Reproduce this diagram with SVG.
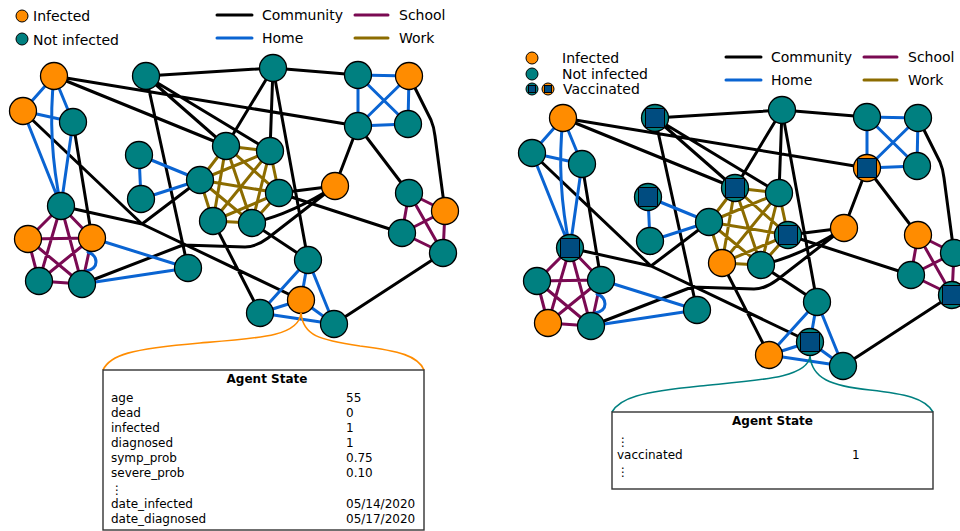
<svg xmlns="http://www.w3.org/2000/svg" xmlns:xlink="http://www.w3.org/1999/xlink" width="960" height="531" viewBox="0 0 960 531">
<style>
text{font-family:"DejaVu Sans","Liberation Sans",sans-serif;fill:#000}
.lg{font-size:14px}
.st{font-size:12px}
.ttl{font-size:12px;font-weight:bold}
.e{fill:none;stroke-width:3;stroke-linejoin:round;stroke-linecap:round}
.com{stroke:#000}
.home{stroke:#0a64d2}
.sch{stroke:#7a0a52}
.work{stroke:#8c6c00}
.n circle{stroke:#000;stroke-width:1.3}
.inf{fill:#ff8c00}
.sus{fill:#008080}
.vac{fill:#004c80;stroke:#000;stroke-width:1}
.box{fill:#fff;stroke:#333;stroke-width:1.4}
</style>
<defs>
<g id="edgesL" class="e">
<!-- work clique -->
<path class="work" d="M226,146L270,151M226,146L200,180M226,146L279,193M226,146L213,221M226,146L252,223M270,151L200,180M270,151L279,193M270,151L213,221M270,151L252,223M200,180L279,193M200,180L213,221M200,180L252,223M279,193L213,221M279,193L252,223M213,221L252,223"/>
<!-- school cliques -->
<path class="sch" d="M61,206L28,239M61,206L92,238M61,206L39,281M61,206L82,284M28,239L92,238M28,239L39,281M28,239L82,284M92,238L39,281M92,238L82,284M39,281L82,284"/>
<path class="sch" d="M409,193L445,211M409,193L402,233M409,193L443,253M445,211L402,233M445,211L443,253M402,233L443,253"/>
<!-- community -->
<path class="com" d="M146,76L273,68M273,68L358,75M54,76L358,126M54,76L226,146M146,76L226,146M146,76L270,151M146,76L188,268M273,68L226,146M273,68L270,151M273,68L308,260M358,126L335,186M358,126L409,193M409,76L431,120Q434,127 435,136L445,211M279,193L335,186M279,193L402,233M252,223Q292,214 335,186M82,284L183,245L245,247Q256,247 268,238L335,186M252,223L308,260M213,221L260,313M443,253L334,324M73,122L92,238M23,111L142,224L200,180M61,206L142,224L301,300"/>
<!-- home -->
<path class="home" d="M54,76L23,111M54,76L73,122M54,76Q47,140 61,206M23,111L73,122M23,111L61,206M73,122L61,206"/>
<path class="home" d="M139,155L141,199M139,155L200,180M141,199L200,180"/>
<path class="home" d="M358,75L409,76M358,75L358,126M358,75L408,124M409,76L358,126M409,76L408,124M358,126L408,124"/>
<path class="home" d="M308,260L301,300M308,260L260,313M308,260L334,324M301,300L260,313M301,300L334,324M260,313L334,324"/>
<path class="home" d="M92,238L188,268M82,284L188,268M88,252C98,256 100,268 86,271"/>
</g>
</defs>

<!-- ===== Left panel ===== -->
<g id="legend-left">
<circle cx="22" cy="16" r="6" class="inf" stroke="#000" stroke-width="1"/>
<text class="lg" x="33" y="21">Infected</text>
<circle cx="22" cy="39" r="6" class="sus" stroke="#000" stroke-width="1"/>
<text class="lg" x="33" y="45">Not infected</text>
<line x1="217" y1="15" x2="252" y2="15" class="e com"/>
<text class="lg" x="262" y="20">Community</text>
<line x1="355" y1="15" x2="388" y2="15" class="e sch"/>
<text class="lg" x="399" y="20">School</text>
<line x1="217" y1="38" x2="252" y2="38" class="e home"/>
<text class="lg" x="262" y="43">Home</text>
<line x1="355" y1="38" x2="388" y2="38" class="e work"/>
<text class="lg" x="399" y="43">Work</text>
</g>

<g id="connectors-left">
<use xlink:href="#edgesL" href="#edgesL"/>
</g>

<g id="nodes-left" class="n">
<g id="L-A"><circle cx="54" cy="76" r="13.5" class="inf"/></g>
<g id="L-B"><circle cx="23" cy="111" r="13.5" class="inf"/></g>
<g id="L-C"><circle cx="73" cy="122" r="13.5" class="sus"/></g>
<g id="L-D"><circle cx="146" cy="76" r="13.5" class="sus"/></g>
<g id="L-E"><circle cx="139" cy="155" r="13.5" class="sus"/></g>
<g id="L-F"><circle cx="273" cy="68" r="13.5" class="sus"/></g>
<g id="L-G"><circle cx="358" cy="75" r="13.5" class="sus"/></g>
<g id="L-H"><circle cx="409" cy="76" r="13.5" class="inf"/></g>
<g id="L-I"><circle cx="358" cy="126" r="13.5" class="sus"/></g>
<g id="L-J"><circle cx="408" cy="124" r="13.5" class="sus"/></g>
<g id="L-K"><circle cx="226" cy="146" r="13.5" class="sus"/></g>
<g id="L-L"><circle cx="270" cy="151" r="13.5" class="sus"/></g>
<g id="L-M"><circle cx="200" cy="180" r="13.5" class="sus"/></g>
<g id="L-N"><circle cx="141" cy="199" r="13.5" class="sus"/></g>
<g id="L-O"><circle cx="279" cy="193" r="13.5" class="sus"/></g>
<g id="L-P"><circle cx="335" cy="186" r="13.5" class="inf"/></g>
<g id="L-Q"><circle cx="213" cy="221" r="13.5" class="sus"/></g>
<g id="L-R"><circle cx="252" cy="223" r="13.5" class="sus"/></g>
<g id="L-S"><circle cx="409" cy="193" r="13.5" class="sus"/></g>
<g id="L-T"><circle cx="445" cy="211" r="13.5" class="inf"/></g>
<g id="L-U"><circle cx="402" cy="233" r="13.5" class="sus"/></g>
<g id="L-V"><circle cx="443" cy="253" r="13.5" class="sus"/></g>
<g id="L-W"><circle cx="61" cy="206" r="13.5" class="sus"/></g>
<g id="L-X"><circle cx="28" cy="239" r="13.5" class="inf"/></g>
<g id="L-Y"><circle cx="92" cy="238" r="13.5" class="inf"/></g>
<g id="L-Z"><circle cx="39" cy="281" r="13.5" class="sus"/></g>
<g id="L-AA"><circle cx="82" cy="284" r="13.5" class="sus"/></g>
<g id="L-AB"><circle cx="188" cy="268" r="13.5" class="sus"/></g>
<g id="L-AC"><circle cx="308" cy="260" r="13.5" class="sus"/></g>
<g id="L-AD"><circle cx="301" cy="300" r="13.5" class="inf"/></g>
<g id="L-AE"><circle cx="260" cy="313" r="13.5" class="sus"/></g>
<g id="L-AF"><circle cx="334" cy="324" r="13.5" class="sus"/></g>
</g>

<g id="callout-left">
<path d="M103,370C110,355 130,349 200,343C262,338 299,336 301,313" fill="none" stroke="#ff8c00" stroke-width="1.6"/>
<path d="M301,313C303,336 320,340 360,346C400,351 418,356 424,370" fill="none" stroke="#ff8c00" stroke-width="1.6"/>
<rect x="103" y="370" width="321" height="160" class="box"/>
<text class="ttl" x="267" y="383" text-anchor="middle">Agent State</text>
<text class="st" x="111" y="402">age</text><text class="st" x="346" y="402">55</text>
<text class="st" x="111" y="417">dead</text><text class="st" x="346" y="417">0</text>
<text class="st" x="111" y="432">infected</text><text class="st" x="346" y="432">1</text>
<text class="st" x="111" y="447">diagnosed</text><text class="st" x="346" y="447">1</text>
<text class="st" x="111" y="462">symp_prob</text><text class="st" x="346" y="462">0.75</text>
<text class="st" x="111" y="477">severe_prob</text><text class="st" x="346" y="477">0.10</text>
<text class="st" x="111" y="494">⋮</text>
<text class="st" x="111" y="508">date_infected</text><text class="st" x="346" y="508">05/14/2020</text>
<text class="st" x="111" y="523">date_diagnosed</text><text class="st" x="346" y="523">05/17/2020</text>
</g>

<!-- ===== Right panel ===== -->
<g id="legend-right">
<circle cx="532" cy="58" r="6" class="inf" stroke="#000" stroke-width="1"/>
<text class="lg" x="562" y="63">Infected</text>
<circle cx="532" cy="74" r="6" class="sus" stroke="#000" stroke-width="1"/>
<text class="lg" x="562" y="79">Not infected</text>
<circle cx="532" cy="89" r="6" class="sus" stroke="#000" stroke-width="1"/>
<rect x="528.5" y="85.5" width="7" height="7" class="vac"/>
<circle cx="548" cy="89" r="6" class="inf" stroke="#000" stroke-width="1"/>
<rect x="544.5" y="85.5" width="7" height="7" class="vac"/>
<text class="lg" x="563" y="94">Vaccinated</text>
<line x1="726" y1="57" x2="761" y2="57" class="e com"/>
<text class="lg" x="771" y="62">Community</text>
<line x1="864" y1="57" x2="897" y2="57" class="e sch"/>
<text class="lg" x="908" y="62">School</text>
<line x1="726" y1="80" x2="761" y2="80" class="e home"/>
<text class="lg" x="771" y="85">Home</text>
<line x1="864" y1="80" x2="897" y2="80" class="e work"/>
<text class="lg" x="908" y="85">Work</text>
</g>

<g id="connectors-right">
<use xlink:href="#edgesL" href="#edgesL" transform="translate(509,42)"/>
</g>

<g id="nodes-right" class="n" transform="translate(509,42)">
<g id="R-A"><circle cx="54" cy="76" r="13.5" class="inf"/></g>
<g id="R-B"><circle cx="23" cy="111" r="13.5" class="sus"/></g>
<g id="R-C"><circle cx="73" cy="122" r="13.5" class="sus"/></g>
<g id="R-D"><circle cx="146" cy="76" r="13.5" class="sus"/><rect x="136.5" y="66.5" width="19" height="19" class="vac"/></g>
<g id="R-E"><circle cx="139" cy="155" r="13.5" class="sus"/><rect x="129.5" y="145.5" width="19" height="19" class="vac"/></g>
<g id="R-F"><circle cx="273" cy="68" r="13.5" class="sus"/></g>
<g id="R-G"><circle cx="358" cy="75" r="13.5" class="sus"/></g>
<g id="R-H"><circle cx="409" cy="76" r="13.5" class="sus"/></g>
<g id="R-I"><circle cx="358" cy="126" r="13.5" class="inf"/><rect x="348.5" y="116.5" width="19" height="19" class="vac"/></g>
<g id="R-J"><circle cx="408" cy="124" r="13.5" class="sus"/></g>
<g id="R-K"><circle cx="226" cy="146" r="13.5" class="sus"/><rect x="216.5" y="136.5" width="19" height="19" class="vac"/></g>
<g id="R-L"><circle cx="270" cy="151" r="13.5" class="sus"/></g>
<g id="R-M"><circle cx="200" cy="180" r="13.5" class="sus"/></g>
<g id="R-N"><circle cx="141" cy="199" r="13.5" class="sus"/></g>
<g id="R-O"><circle cx="279" cy="193" r="13.5" class="sus"/><rect x="269.5" y="183.5" width="19" height="19" class="vac"/></g>
<g id="R-P"><circle cx="335" cy="186" r="13.5" class="inf"/></g>
<g id="R-Q"><circle cx="213" cy="221" r="13.5" class="inf"/></g>
<g id="R-R"><circle cx="252" cy="223" r="13.5" class="sus"/></g>
<g id="R-S"><circle cx="409" cy="193" r="13.5" class="inf"/></g>
<g id="R-T"><circle cx="445" cy="211" r="13.5" class="sus"/></g>
<g id="R-U"><circle cx="402" cy="233" r="13.5" class="sus"/></g>
<g id="R-V"><circle cx="443" cy="253" r="13.5" class="sus"/><rect x="433.5" y="243.5" width="19" height="19" class="vac"/></g>
<g id="R-W"><circle cx="61" cy="206" r="13.5" class="sus"/><rect x="51.5" y="196.5" width="19" height="19" class="vac"/></g>
<g id="R-X"><circle cx="28" cy="239" r="13.5" class="sus"/></g>
<g id="R-Y"><circle cx="92" cy="238" r="13.5" class="sus"/></g>
<g id="R-Z"><circle cx="39" cy="281" r="13.5" class="inf"/></g>
<g id="R-AA"><circle cx="82" cy="284" r="13.5" class="sus"/></g>
<g id="R-AB"><circle cx="188" cy="268" r="13.5" class="sus"/></g>
<g id="R-AC"><circle cx="308" cy="260" r="13.5" class="sus"/></g>
<g id="R-AD"><circle cx="301" cy="300" r="13.5" class="sus"/><rect x="291.5" y="290.5" width="19" height="19" class="vac"/></g>
<g id="R-AE"><circle cx="260" cy="313" r="13.5" class="inf"/></g>
<g id="R-AF"><circle cx="334" cy="324" r="13.5" class="sus"/></g>
</g>

<g id="callout-right">
<path d="M612,412C620,398 640,392 700,386C760,380 808,378 810,356" fill="none" stroke="#008080" stroke-width="1.6"/>
<path d="M810,356C812,378 830,386 870,390C905,394 925,398 933,412" fill="none" stroke="#008080" stroke-width="1.6"/>
<rect x="612" y="412" width="321" height="77" class="box"/>
<text class="ttl" x="772.5" y="425" text-anchor="middle">Agent State</text>
<text class="st" x="617" y="446">⋮</text>
<text class="st" x="617" y="459">vaccinated</text><text class="st" x="852" y="459">1</text>
<text class="st" x="617" y="476">⋮</text>
</g>
</svg>
